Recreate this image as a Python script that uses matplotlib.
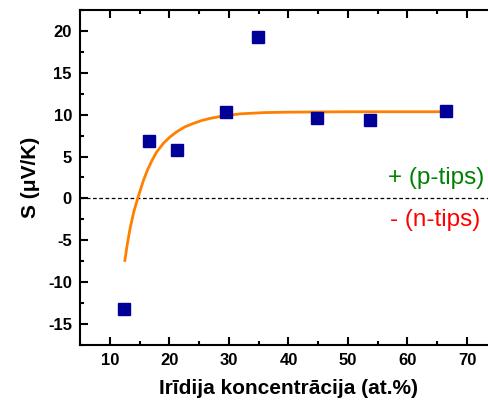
import numpy as np
import matplotlib.pyplot as plt
from matplotlib.ticker import MultipleLocator

# ============================================================
# Data
# ============================================================
conc = [12.4, 16.5, 21.3, 29.5, 34.8, 44.8, 53.7, 66.4]
seebeck = [-13.2, 6.8, 5.8, 10.3, 19.3, 9.6, 9.4, 10.4]

# fitted curve, sampled by eye
fit_x = [12.5, 12.9, 13.4, 14.0, 14.7, 15.6, 16.3, 17.0, 17.8, 19.0,
         20.1, 21.2, 22.6, 24.0, 25.4, 26.8, 29.0, 31.9, 36.0, 40.0, 50.0, 66.4]
fit_y = [-7.4, -5.5, -3.5, -1.6, 0.1, 2.1, 3.4, 4.45, 5.5, 6.6,
         7.35, 7.95, 8.55, 8.95, 9.3, 9.55, 9.85, 10.1, 10.25, 10.3, 10.35, 10.35]

plt.rcParams['font.family'] = ['Liberation Sans', 'DejaVu Sans']
plt.rcParams['axes.unicode_minus'] = False

# ============================================================
# Plot
# ============================================================
fig = plt.figure(figsize=(4.89, 4.01), dpi=100)
ax = fig.add_axes([0.1641, 0.1397, 0.8517, 0.8354])

ax.axhline(0, color='black', lw=0.9, ls=(0, (3, 2)), zorder=1)
ax.plot(fit_x, fit_y, color='#FF8000', lw=2, zorder=2)
ax.plot(conc, seebeck, ls='none', marker='s', ms=9, color='#000099', zorder=3)

ax.set_xlim(5, 75)
ax.set_ylim(-17.5, 22.5)
ax.xaxis.set_major_locator(MultipleLocator(10))
ax.xaxis.set_minor_locator(MultipleLocator(5))
ax.yaxis.set_major_locator(MultipleLocator(5))
ax.yaxis.set_minor_locator(MultipleLocator(2.5))

ax.tick_params(which='both', direction='in', top=True, right=False, width=1.5)
ax.tick_params(which='major', length=6, labelsize=12, pad=6)
ax.tick_params(which='minor', length=3)
for lab in ax.get_xticklabels() + ax.get_yticklabels():
    lab.set_fontweight('bold')
for s in ax.spines.values():
    s.set_linewidth(1.5)

ax.set_xlabel('Irīdija koncentrācija (at.%)', fontsize=15, fontweight='bold', labelpad=8)
ax.set_ylabel('S (μV/K)', fontsize=15, fontweight='bold', labelpad=6)

ax.text(0.969, 0.498, '+ (p-tips)', transform=ax.transAxes, color='#008000',
        fontsize=17.5, ha='right', va='center')
ax.text(0.960, 0.373, '- (n-tips)', transform=ax.transAxes, color='#FF0000',
        fontsize=17.5, ha='right', va='center')

fig.savefig('out.png', dpi=100)
